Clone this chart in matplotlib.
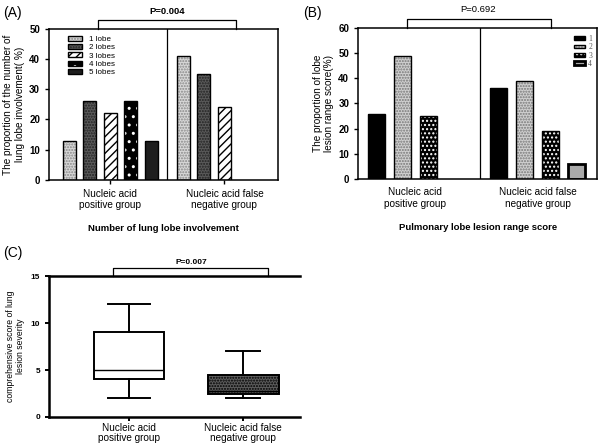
import numpy as np
import matplotlib
matplotlib.use("Agg")
import matplotlib.pyplot as plt
from matplotlib.patches import Patch
from matplotlib.transforms import blended_transform_factory

plt.rcParams['font.family'] = ['Liberation Sans', 'DejaVu Sans']
plt.rcParams['hatch.linewidth'] = 1.0

# ---- data ----
groups = ["Nucleic acid\npositive group", "Nucleic acid false\nnegative group"]

lobe_labels = ["1 lobe", "2 lobes", "3 lobes", "4 lobes", "5 lobes"]
lobe_pos = [13, 26, 22, 26, 13]
lobe_neg = [41, 35, 24, 0, 0]

score_labels = ["1", "2", "3", "4"]
score_pos = [26, 49, 25, 0]
score_neg = [36, 39, 19, 6]

# box plot stats for comprehensive severity score
box_low = [2, 2]
box_q1 = [4, 2.5]
box_med = [5, 2.8]
box_q3 = [9, 4.5]
box_high = [12, 7]

p_values = ["P=0.004", "P=0.692", "P=0.007"]

# ---- styles (face, hatch, hatch colour) ----
lobe_styles = [
    ("#d8d8d8", "......", "#888888"),
    ("#5a5a5a", "......", "#222222"),
    ("white", "////", "black"),
    ("black", "..", "white"),
    ("#1e1e1e", "", "#1e1e1e"),
]
score_styles = [
    ("black", "", "black"),
    ("#d0d0d0", "......", "#777777"),
    ("black", "....", "white"),
    ("#aaaaaa", "", "#aaaaaa"),
]


def styled_bar(ax, x, h, w, style, lw=1.0):
    face, hatch, hcol = style
    ax.bar(x, h, w, color=face, hatch=hatch, edgecolor=hcol, linewidth=0)
    ax.bar(x, h, w, fill=False, edgecolor="black", linewidth=lw)


def handle(style, lw=1.0):
    face, hatch, hcol = style
    return (Patch(facecolor=face, hatch=hatch, edgecolor=hcol, linewidth=0),
            Patch(fill=False, edgecolor="black", linewidth=lw))


def bracket(ax, x0, x1, h, ty, text, tx, fs=6.8, weight="bold"):
    tr = blended_transform_factory(ax.transData, ax.transAxes)
    ax.plot([x0, x0, x1, x1], [1.0, 1.0 + h, 1.0 + h, 1.0], color="black",
            lw=0.9, transform=tr, clip_on=False)
    ax.text(tx, ty, text, transform=tr, ha="center", va="center",
            fontsize=fs, fontweight=weight)


fig = plt.figure(figsize=(5.98, 4.43), dpi=100)

# ---- panel A ----
axA = fig.add_axes([0.082, 0.594, 0.383, 0.341])
step, bw = 0.18, 0.114
for i, style in enumerate(lobe_styles):
    off = (i - 2) * step
    if lobe_pos[i] > 0:
        styled_bar(axA, 0 + off, lobe_pos[i], bw, style)
    if lobe_neg[i] > 0:
        styled_bar(axA, 1 + off, lobe_neg[i], bw, style)
axA.set_xlim(-0.535, 1.47)
axA.set_ylim(0, 50)
axA.set_yticks(np.arange(0, 51, 10))
axA.set_xticks([0, 1])
axA.set_xticklabels(groups, fontsize=7.2)
axA.axvline(0.5, color="black", lw=0.9)
axA.set_ylabel("The proportion of the number of\nlung lobe involvement( %)", fontsize=7.2,
               labelpad=3)
axA.set_xlabel("Number of lung lobe involvement", fontsize=6.8, fontweight="bold",
               labelpad=10)
for lab in axA.get_yticklabels():
    lab.set_fontweight("bold")
    lab.set_fontsize(7)
axA.tick_params(length=3, width=1)
for s in axA.spines.values():
    s.set_linewidth(1.1)
axA.legend([handle(s) for s in lobe_styles], lobe_labels, loc="upper left",
           bbox_to_anchor=(0.06, 0.99), frameon=False, fontsize=5.8,
           handlelength=1.7, handleheight=0.55, labelspacing=0.12,
           handletextpad=0.8, borderpad=0.2)
bracket(axA, -0.105, 1.105, 0.06, 1.115, p_values[0], 0.5)

# ---- panel B ----
axB = fig.add_axes([0.599, 0.596, 0.400, 0.341])
step, bw = 0.212, 0.14
for i, style in enumerate(score_styles):
    off = (i - 1.5) * step
    lw = 2.0 if i == 3 else 1.0
    if score_pos[i] > 0:
        styled_bar(axB, 0 + off, score_pos[i], bw, style, lw)
    if score_neg[i] > 0:
        styled_bar(axB, 1 + off, score_neg[i], bw, style, lw)
axB.set_xlim(-0.465, 1.486)
axB.set_ylim(0, 60)
axB.set_yticks(np.arange(0, 61, 10))
axB.set_xticks([0, 1])
axB.set_xticklabels(groups, fontsize=7.2)
axB.tick_params(axis="x", length=0, pad=6)
axB.axvline(0.53, color="black", lw=0.9)
axB.set_ylabel("The proportion of lobe\nlesion range score(%)", fontsize=7.2, labelpad=3)
axB.set_xlabel("Pulmonary lobe lesion range score", fontsize=6.8, fontweight="bold",
               labelpad=10)
for lab in axB.get_yticklabels():
    lab.set_fontweight("bold")
    lab.set_fontsize(7)
axB.tick_params(axis="y", length=3, width=1)
for s in axB.spines.values():
    s.set_linewidth(1.1)
legB = axB.legend([handle(s, 2.0 if i == 3 else 1.0) for i, s in enumerate(score_styles)],
                  score_labels, loc="upper right", bbox_to_anchor=(1.0, 0.99),
                  frameon=False, handlelength=1.5, handleheight=0.35,
                  labelspacing=0.05, handletextpad=0.4, borderpad=0.2,
                  prop={"family": "Liberation Serif", "size": 5.5})
for t in legB.get_texts():
    t.set_color("#555555")
bracket(axB, -0.065, 1.11, 0.06, 1.12, p_values[1], 0.51, weight="normal")

# ---- panel C ----
axC = fig.add_axes([0.082, 0.0587, 0.42, 0.318])
stats = []
for i in range(2):
    stats.append(dict(whislo=box_low[i], q1=box_q1[i], med=box_med[i],
                      q3=box_q3[i], whishi=box_high[i], fliers=[]))
res = axC.bxp(stats, positions=[1, 2], widths=0.62, patch_artist=True,
              showfliers=False, capwidths=[0.36, 0.3],
              boxprops=dict(linewidth=1.4, edgecolor="black"),
              whiskerprops=dict(linewidth=1.4), capprops=dict(linewidth=1.4),
              medianprops=dict(color="black", linewidth=1.0))
res["boxes"][0].set_facecolor("white")
res["boxes"][1].set_facecolor("#5e5e5e")
res["boxes"][1].set_hatch("......")
res["boxes"][1].set_edgecolor("black")
axC.set_xlim(0.30, 2.5)
axC.set_ylim(0, 15)
axC.set_yticks([0, 5, 10, 15])
axC.set_xticks([1, 2])
axC.set_xticklabels(groups, fontsize=7.2, linespacing=1.0)
axC.set_ylabel("comprehensive score of lung\nlesion severity", fontsize=6.2, labelpad=4)
for lab in axC.get_yticklabels():
    lab.set_fontweight("bold")
    lab.set_fontsize(6)
axC.tick_params(axis="y", length=3, width=1.4)
axC.tick_params(axis="x", length=3, width=1.4, pad=1)
axC.spines["right"].set_visible(False)
for k in ["left", "bottom", "top"]:
    axC.spines[k].set_linewidth(1.8)
bracket(axC, 0.86, 2.22, 0.057, 1.1, p_values[2], 1.55, fs=6)

# panel letters
fig.text(3 / 598, 1 - 13 / 443, "(A)", fontsize=10, va="center")
fig.text(303 / 598, 1 - 13 / 443, "(B)", fontsize=10, va="center")
fig.text(3 / 598, 1 - 253 / 443, "(C)", fontsize=10, va="center")

fig.savefig("out.png", dpi=100)
